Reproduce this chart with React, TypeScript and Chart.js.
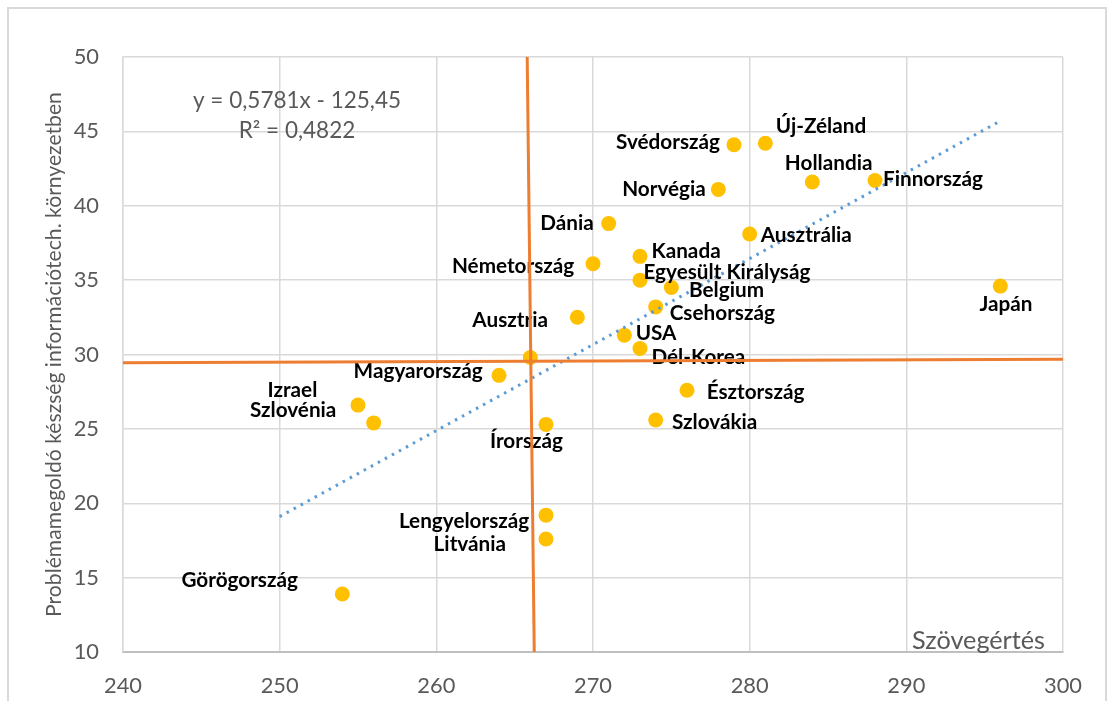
import { useEffect, useRef } from 'react';
import { Chart, registerables } from 'chart.js';

Chart.register(...registerables);

// ---- data ----
const countries = [
  'Svédország', 'Új-Zéland', 'Hollandia', 'Finnország', 'Norvégia', 'Dánia',
  'Ausztrália', 'Kanada', 'Németország', 'Egyesült Királyság', 'Belgium',
  'Csehország', 'Ausztria', 'USA', 'Dél-Korea', 'Japán', '', 'Magyarország',
  'Izrael', 'Szlovénia', 'Írország', 'Észtország', 'Szlovákia',
  'Lengyelország', 'Litvánia', 'Görögország',
];
const readingScores = [
  279, 281, 284, 288, 278, 271, 280, 273, 270, 273, 275, 274, 269, 272, 273,
  296, 266, 264, 255, 256, 267, 276, 274, 267, 267, 254,
];
const problemSolvingScores = [
  44.1, 44.2, 41.6, 41.7, 41.1, 38.8, 38.1, 36.6, 36.1, 35.0, 34.5, 33.2, 32.5,
  31.3, 30.4, 34.6, 29.8, 28.6, 26.6, 25.4, 25.3, 27.6, 25.6, 19.2, 17.6, 13.9,
];

// trend line end points
const trendX = [250, 296];
const trendY = [19.1, 45.7];
// quadrant (average) lines
const vLineX = [265.8, 266.25];
const vLineY = [50, 10];
const hLineX = [240, 300];
const hLineY = [29.45, 29.68];

const xTickValues = [240, 250, 260, 270, 280, 290, 300];
const yTickValues = [10, 15, 20, 25, 30, 35, 40, 45, 50];

const equationText = 'y = 0,5781x - 125,45';
const r2Text = 'R² = 0,4822';
const xTitle = 'Szövegértés';
const yTitle = 'Problémamegoldó készség információtech. környezetben';

// label placement relative to each point: [dx, dy, align]
const labelPlacement: [number, number, CanvasTextAlign][] = [
  [-14, -2, 'right'], [10.5, -16.6, 'left'], [-27.5, -19, 'left'], [8, -1.6, 'left'],
  [-12.5, 0, 'right'], [-15, 0, 'right'], [11, 1, 'left'], [11.5, -5, 'left'],
  [-18.7, 3, 'right'], [3.5, -7.7, 'left'], [17.7, 3, 'left'], [14, 6.6, 'left'],
  [-29.3, 2.7, 'right'], [11.3, -1.7, 'left'], [11.4, 8.4, 'left'], [5.6, 18, 'center'],
  [0, 0, 'center'], [-16.3, -4.3, 'right'], [-40.7, -14.3, 'right'], [-37.3, -12.3, 'right'],
  [-19.5, 17, 'center'], [19.7, 2.6, 'left'], [16.4, 2.4, 'left'], [-16.7, 5.7, 'right'],
  [-40, 5, 'right'], [-44.4, -13.3, 'right'],
];

const W = 1108;
const H = 701;
const FAMILY = 'Lato, "Noto Sans", sans-serif';
const GRAY = '#595959';

function fitSize(text: string, weight: string, target: number): number {
  const c = document.createElement('canvas').getContext('2d')!;
  c.font = `${weight} 100px ${FAMILY}`;
  return (100 * target) / c.measureText(text).width;
}

export default function App() {
  const ref = useRef<HTMLCanvasElement | null>(null);

  useEffect(() => {
    const canvas = ref.current;
    if (!canvas) return;

    const tickSize = fitSize('300', 'normal', 38);
    const labelSize = fitSize('Egyesült Királyság', 'bold', 167);
    const eqSize = fitSize(equationText, 'normal', 208);
    const xTitleSize = fitSize(xTitle, 'normal', 133);
    const yTitleSize = fitSize(yTitle, 'normal', 525);

    const TREND_INDEX = 1;

    const annotPlugin = {
      id: 'annot',
      beforeDraw(chart: any) {
        const ctx = chart.ctx;
        ctx.save();
        ctx.fillStyle = '#ffffff';
        ctx.fillRect(0, 0, W, H);
        ctx.fillStyle = '#d9d9d9';
        ctx.fillRect(7, 7, 2, H - 7);
        ctx.fillRect(7, 7, 1100, 2);
        ctx.fillRect(1105, 7, 2, H - 7);
        ctx.restore();
      },
      afterDatasetDraw(chart: any, args: any) {
        if (args.index !== TREND_INDEX) return;
        const ctx = chart.ctx;
        const xs = chart.scales.x;
        const ys = chart.scales.y;
        ctx.save();
        ctx.font = `bold ${labelSize}px ${FAMILY}`;
        ctx.fillStyle = '#000000';
        ctx.textBaseline = 'middle';
        countries.forEach((name, i) => {
          if (!name) return;
          const [dx, dy, align] = labelPlacement[i];
          const px = xs.getPixelForValue(readingScores[i]);
          const py = ys.getPixelForValue(problemSolvingScores[i]);
          ctx.textAlign = align;
          ctx.fillText(name, px + dx, py + dy);
        });
        ctx.restore();
      },
      afterDraw(chart: any) {
        const ctx = chart.ctx;
        const a = chart.chartArea;
        ctx.save();
        ctx.fillStyle = GRAY;
        // equation
        ctx.font = `${eqSize}px ${FAMILY}`;
        ctx.textAlign = 'center';
        ctx.textBaseline = 'middle';
        ctx.fillText(equationText, a.left + 174, a.top + 44);
        ctx.fillText(r2Text, a.left + 174, a.top + 74);
        // x title inside plot
        ctx.font = `${xTitleSize}px ${FAMILY}`;
        ctx.textAlign = 'right';
        ctx.textBaseline = 'alphabetic';
        ctx.fillText(xTitle, a.right - 18, a.bottom - 3);
        // y title
        ctx.font = `${yTitleSize}px ${FAMILY}`;
        ctx.translate(54, (a.top + a.bottom) / 2);
        ctx.rotate(-Math.PI / 2);
        ctx.textAlign = 'center';
        ctx.textBaseline = 'middle';
        ctx.fillText(yTitle, 0, 0);
        ctx.restore();
      },
    };

    const chart = new Chart(canvas, {
      type: 'scatter',
      data: {
        datasets: [
          {
            data: readingScores.map((x, i) => ({ x, y: problemSolvingScores[i] })),
            backgroundColor: '#FFC000',
            borderColor: '#FFC000',
            pointRadius: 7.5,
            pointBorderWidth: 0,
            order: 3,
          },
          {
            data: trendX.map((x, i) => ({ x, y: trendY[i] })),
            showLine: true,
            borderColor: '#5B9BD5',
            borderWidth: 3,
            borderDash: [2.5, 5.5],
            pointRadius: 0,
            order: 2,
          },
          {
            data: vLineX.map((x, i) => ({ x, y: vLineY[i] })),
            showLine: true,
            borderColor: '#ED7D31',
            borderWidth: 3,
            pointRadius: 0,
            order: 1,
          },
          {
            data: hLineX.map((x, i) => ({ x, y: hLineY[i] })),
            showLine: true,
            borderColor: '#ED7D31',
            borderWidth: 3,
            pointRadius: 0,
            order: 0,
          },
        ],
      },
      options: {
        responsive: false,
        maintainAspectRatio: false,
        devicePixelRatio: 1,
        animation: false,
        layout: { padding: { top: 57, right: 45, left: 0, bottom: 0 } },
        plugins: {
          legend: { display: false },
          tooltip: { enabled: false },
        },
        scales: {
          x: {
            type: 'linear',
            min: xTickValues[0],
            max: xTickValues[xTickValues.length - 1],
            afterBuildTicks: (s: any) => {
              s.ticks = xTickValues.map((v) => ({ value: v }));
            },
            afterFit: (s: any) => {
              s.height = 49;
            },
            grid: { color: '#d9d9d9', lineWidth: 1.5, drawTicks: false },
            border: { color: '#bfbfbf', width: 2 },
            ticks: {
              color: GRAY,
              padding: 21,
              font: { family: FAMILY, size: tickSize },
            },
          },
          y: {
            type: 'linear',
            min: yTickValues[0],
            max: yTickValues[yTickValues.length - 1],
            afterBuildTicks: (s: any) => {
              s.ticks = yTickValues.map((v) => ({ value: v }));
            },
            afterFit: (s: any) => {
              s.width = 123;
            },
            grid: { color: '#d9d9d9', lineWidth: 1.5, drawTicks: false },
            border: { color: '#d9d9d9', width: 1.5 },
            ticks: {
              color: GRAY,
              padding: 24,
              font: { family: FAMILY, size: tickSize },
            },
          },
        },
      },
      plugins: [annotPlugin],
    } as any);

    return () => chart.destroy();
  }, []);

  return (
    <div style={{ position: 'fixed', left: 0, top: 0, width: W, height: H, background: '#fff' }}>
      <canvas ref={ref} width={W} height={H} style={{ display: 'block', width: W, height: H }} />
    </div>
  );
}
